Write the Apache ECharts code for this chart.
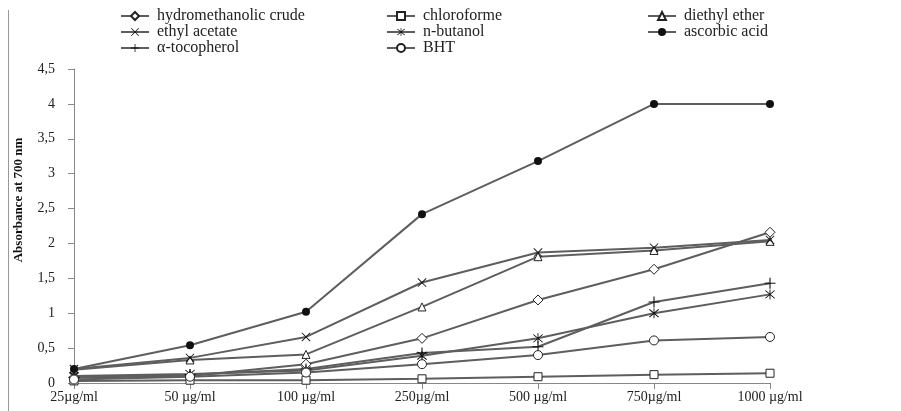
<!DOCTYPE html>
<html>
<head>
<meta charset="utf-8">
<script src="https://cdn.jsdelivr.net/npm/echarts@6/dist/echarts.min.js"></script>
<style>html,body{margin:0;padding:0;background:#fff;}#c{width:901px;height:411px;}</style>
</head>
<body>
<div id="c"></div>
<script>
var categories = ['25µg/ml', '50 µg/ml', '100 µg/ml', '250µg/ml', '500 µg/ml', '750µg/ml', '1000 µg/ml'];
var hydromethanolic = [0.08, 0.10, 0.27, 0.64, 1.19, 1.63, 2.16];
var chloroforme = [0.03, 0.04, 0.04, 0.06, 0.09, 0.12, 0.14];
var diethylEther = [0.19, 0.33, 0.41, 1.09, 1.81, 1.90, 2.03];
var ethylAcetate = [0.20, 0.36, 0.66, 1.44, 1.87, 1.94, 2.05];
var nButanol = [0.10, 0.13, 0.18, 0.39, 0.64, 1.00, 1.27];
var ascorbicAcid = [0.20, 0.54, 1.02, 2.42, 3.18, 4.00, 4.00];
var tocopherol = [0.08, 0.12, 0.20, 0.43, 0.52, 1.16, 1.43];
var bht = [0.05, 0.09, 0.15, 0.27, 0.40, 0.61, 0.66];
var seriesNames = ['hydromethanolic crude', 'chloroforme', 'diethyl ether', 'ethyl acetate', 'n-butanol', 'ascorbic acid', 'α-tocopherol', 'BHT'];
var yTicks = ['0', '0,5', '1', '1,5', '2', '2,5', '3', '3,5', '4', '4,5'];

var LINE = '#5e5e5e';
var FONT = 'Liberation Serif';
var P_PLUS = 'path://M4.5,0H5.5V4.5H10V5.5H5.5V10H4.5V5.5H0V4.5H4.5Z';
var P_X = 'path://M0,0.7L0.7,0L10,9.3L9.3,10ZM9.3,0L10,0.7L0.7,10L0,9.3Z';
var P_STAR = 'path://M0,0.7L0.7,0L10,9.3L9.3,10ZM9.3,0L10,0.7L0.7,10L0,9.3ZM4.55,-1H5.45V11H4.55Z';

function mk(name, data, symbol, size, filled) {
  return {
    name: name, type: 'line', data: data, symbol: symbol, symbolSize: size,
    showAllSymbol: true,
    lineStyle: { color: LINE, width: 2 },
    itemStyle: filled ? { color: '#111', borderWidth: 0 } : { color: '#fff', borderColor: '#222', borderWidth: 1 },
    emphasis: { disabled: true },
    z: 2
  };
}
var series = [
  mk(seriesNames[0], hydromethanolic, 'diamond', 10, false),
  mk(seriesNames[1], chloroforme, 'rect', 8, false),
  mk(seriesNames[2], diethylEther, 'triangle', 8, false),
  mk(seriesNames[3], ethylAcetate, P_X, 9, true),
  mk(seriesNames[4], nButanol, P_STAR, 10, true),
  mk(seriesNames[5], ascorbicAcid, 'circle', 8, true),
  mk(seriesNames[6], tocopherol, P_PLUS, 11, true),
  mk(seriesNames[7], bht, 'circle', 9, false)
];

function legend(left, names) {
  return {
    orient: 'vertical', left: left, top: 8, padding: 0, itemGap: 0, itemWidth: 28, itemHeight: 10,
    data: names, selectedMode: false,
    textStyle: { fontFamily: FONT, fontSize: 16, color: '#222', padding: [0, 0, 0, 3] }
  };
}

var chart = echarts.init(document.getElementById('c'), null, { renderer: 'canvas' });
chart.setOption({
  animation: false,
  backgroundColor: '#fff',
  grid: { left: 74, right: 131, top: 69, bottom: 28, containLabel: false },
  legend: [
    legend(120, [seriesNames[0], seriesNames[3], seriesNames[6]]),
    legend(386, [seriesNames[1], seriesNames[4], seriesNames[7]]),
    legend(647, [seriesNames[2], seriesNames[5]])
  ],
  xAxis: {
    type: 'category', data: categories, boundaryGap: false,
    axisLine: { lineStyle: { color: '#888', width: 1 } },
    axisTick: { alignWithLabel: true, length: 6, lineStyle: { color: '#888' } },
    axisLabel: { fontFamily: FONT, fontSize: 14, color: '#222', margin: 7, interval: 0 },
    splitLine: { show: false }
  },
  yAxis: {
    type: 'value', min: 0, max: 4.5, interval: 0.5,
    axisLine: { show: true, lineStyle: { color: '#888', width: 1 } },
    axisTick: { show: true, length: 6, lineStyle: { color: '#888' } },
    axisLabel: {
      fontFamily: FONT, fontSize: 14, color: '#222', margin: 19,
      formatter: function (v) { return yTicks[Math.round(v * 2)]; }
    },
    splitLine: { show: false }
  },
  graphic: [
    { type: 'line', shape: { x1: 8.5, y1: 10, x2: 8.5, y2: 411 }, style: { stroke: '#999', lineWidth: 1 } },
    { type: 'text', x: 19, y: 200, rotation: Math.PI / 2,
      style: { text: 'Absorbance at 700 nm', font: 'bold 13px "Liberation Serif"', fill: '#111', textAlign: 'center', textVerticalAlign: 'middle' } }
  ],
  series: series
});
</script>
</body>
</html>
